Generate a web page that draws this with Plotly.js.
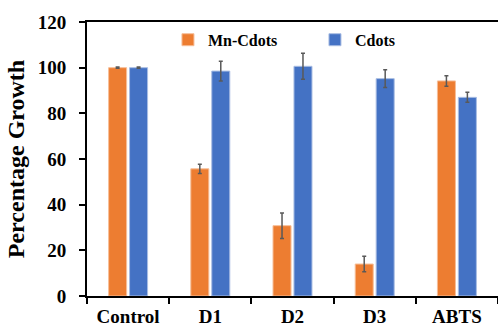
<!DOCTYPE html>
<html>
<head>
<meta charset="utf-8">
<script src="https://cdn.plot.ly/plotly-3.0.1.min.js"></script>
<style>html,body{margin:0;padding:0;background:#fff;}#chart{width:498px;height:326px;}</style>
</head>
<body>
<div id="chart"></div>
<script>
var categories = ["Control", "D1", "D2", "D3", "ABTS"];
var mnCdots = [100, 55.7, 30.8, 14.0, 94.2];
var mnCdotsErr = [0.3, 2.0, 5.6, 3.4, 2.3];
var cdots = [100, 98.5, 100.6, 95.2, 87.0];
var cdotsErr = [0.3, 4.3, 5.7, 3.9, 2.2];
var yTicks = [0, 20, 40, 60, 80, 100, 120];

var fontFam = "Liberation Serif, Times New Roman, serif";

var traces = [
  {
    type: "bar", name: "Mn-Cdots", x: categories, y: mnCdots,
    marker: {color: "#ED7D31", line: {color: "#F6BE98", width: 1}},
    error_y: {type: "data", array: mnCdotsErr, visible: true, color: "#595959", thickness: 1.5, width: 2}
  },
  {
    type: "bar", name: "Cdots", x: categories, y: cdots,
    marker: {color: "#4472C4", line: {color: "#A9BDE3", width: 1}},
    error_y: {type: "data", array: cdotsErr, visible: true, color: "#595959", thickness: 1.5, width: 2}
  }
];

var layout = {
  width: 498, height: 326,
  margin: {l: 87, r: 0, t: 22, b: 30, autoexpand: false},
  paper_bgcolor: "#fff", plot_bgcolor: "#fff",
  font: {family: fontFam, color: "#000", size: 16, weight: "bold"},
  barmode: "group", bargap: 0.49, bargroupgap: 0.14,
  showlegend: true,
  legend: {orientation: "h", x: 0.197, y: 0.935, xanchor: "left", yanchor: "middle",
           itemwidth: 30, tracegroupgap: 0, entrywidth: 102, entrywidthmode: "pixels",
           font: {family: fontFam, size: 16, weight: "bold", color: "#000"}, bgcolor: "rgba(0,0,0,0)"},
  xaxis: {
    type: "category", showline: true, linecolor: "#000", linewidth: 2, mirror: true,
    ticks: "outside", tickson: "boundaries", ticklen: 6, tickwidth: 2, tickcolor: "#000",
    showgrid: false, zeroline: false, ticklabelstandoff: 2, tickangle: 0, automargin: false,
    tickfont: {family: fontFam, size: 19, weight: "bold", color: "#000"}
  },
  yaxis: {
    range: [0, 120], tickvals: yTicks, ticktext: yTicks.map(String),
    showline: true, linecolor: "#000", linewidth: 2, automargin: false,
    ticks: "outside", ticklen: 6, tickwidth: 2, tickcolor: "#000",
    showgrid: false, zeroline: false, ticklabelstandoff: 9,
    tickfont: {family: fontFam, size: 19, weight: "bold", color: "#000"},
    title: {text: "Percentage Growth", font: {family: fontFam, size: 24, weight: "bold", color: "#000"}, standoff: 6}
  }
};

Plotly.newPlot("chart", traces, layout, {displayModeBar: false, staticPlot: true});
</script>
</body>
</html>
